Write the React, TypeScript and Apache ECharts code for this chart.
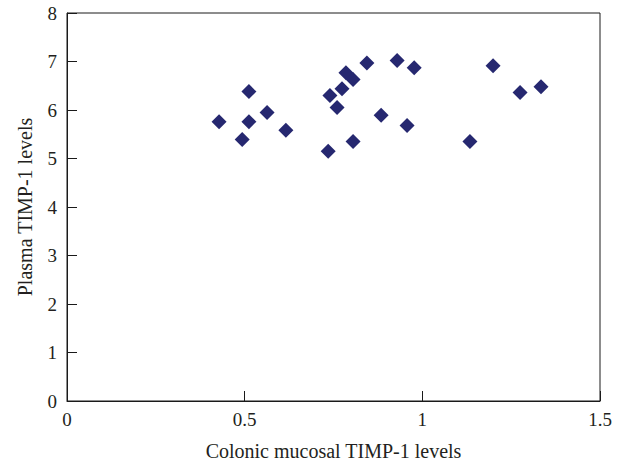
import React, { useEffect, useRef } from "react";
import * as echarts from "echarts";

const colonicTIMP1 = [0.428, 0.493, 0.512, 0.512, 0.563, 0.616, 0.735, 0.740, 0.760, 0.774, 0.785, 0.805, 0.805, 0.844, 0.884, 0.929, 0.957, 0.977, 1.134, 1.199, 1.275, 1.334];
const plasmaTIMP1 = [5.76, 5.39, 6.38, 5.76, 5.95, 5.58, 5.15, 6.30, 6.05, 6.44, 6.77, 6.63, 5.35, 6.97, 5.89, 7.02, 5.68, 6.87, 5.35, 6.91, 6.36, 6.48];
const xTicks = [0, 0.5, 1, 1.5];
const yTicks = [0, 1, 2, 3, 4, 5, 6, 7, 8];

const FONT = "'Liberation Serif', 'DejaVu Serif', serif";

export default function App() {
  const ref = useRef<HTMLDivElement>(null);
  useEffect(() => {
    if (!ref.current) return;
    const chart = echarts.init(ref.current, undefined, { renderer: "svg" });
    const data = colonicTIMP1.map((x, i) => [x, plasmaTIMP1[i]]);
    chart.setOption({
      animation: false,
      backgroundColor: "#ffffff",
      grid: {
        left: 67,
        right: 21,
        top: 13,
        bottom: 63,
        show: true,
        borderColor: "#1a1a1a",
        borderWidth: 1,
        backgroundColor: "transparent",
      },
      xAxis: {
        type: "value",
        min: xTicks[0],
        max: xTicks[xTicks.length - 1],
        interval: 0.5,
        name: "Colonic mucosal TIMP-1 levels",
        nameLocation: "middle",
        nameGap: 40,
        nameTextStyle: { fontFamily: FONT, fontSize: 20, color: "#231f20" },
        axisLine: { show: true, lineStyle: { color: "#1a1a1a", width: 1 } },
        axisTick: { show: true, inside: true, length: 10, lineStyle: { color: "#1a1a1a" } },
        axisLabel: {
          fontFamily: FONT,
          fontSize: 19,
          color: "#231f20",
          margin: 9,
          formatter: (v: number) => String(v),
        },
        splitLine: { show: false },
      },
      yAxis: {
        type: "value",
        min: yTicks[0],
        max: yTicks[yTicks.length - 1],
        interval: 1,
        name: "Plasma TIMP-1 levels",
        nameLocation: "middle",
        nameGap: 32,
        nameTextStyle: { fontFamily: FONT, fontSize: 20, color: "#231f20" },
        axisLine: { show: true, lineStyle: { color: "#1a1a1a", width: 1 } },
        axisTick: { show: true, inside: true, length: 10, lineStyle: { color: "#1a1a1a" } },
        axisLabel: { fontFamily: FONT, fontSize: 19, color: "#231f20", margin: 10 },
        splitLine: { show: false },
      },
      series: [
        {
          type: "scatter",
          data,
          symbol: "diamond",
          symbolSize: 15,
          itemStyle: { color: "#262870", opacity: 1 },
        },
      ],
    });
    return () => chart.dispose();
  }, []);
  return <div ref={ref} style={{ width: 621, height: 466, position: "absolute", left: 0, top: 0 }} />;
}
